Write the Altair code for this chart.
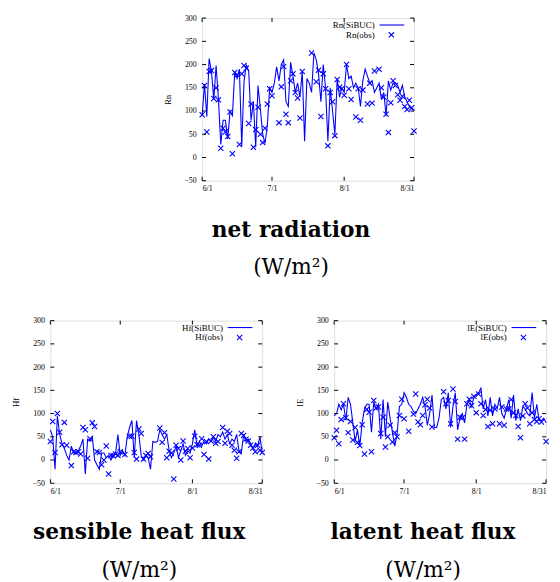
import altair as alt
import pandas as pd

# ---------------- data ----------------
days = list(range(92))
x_tick_days = [0, 30, 61, 91]
x_tick_labels = ["6/1", "7/1", "8/1", "8/31"]
y_ticks = [-50, 0, 50, 100, 150, 200, 250, 300]

rn_model = [90, 158, 88, 213, 185, 125, 198, 125, 28, 80, 80, 40, 100, 90, 185, 170,
            190, 25, 165, 200, 185, 80, 120, 22, 155, 105, 50, 30, 70, 150, 140, 160,
            195, 165, 200, 210, 120, 110, 205, 175, 140, 160, 130, 185, 35, 170, 160, 140,
            225, 210, 180, 120, 200, 150, 35, 150, 100, 50, 170, 130, 150, 140, 200, 170,
            175, 150, 160, 150, 110, 165, 190, 175, 160, 165, 140, 150, 160, 125, 140, 90,
            165, 145, 160, 160, 155, 140, 155, 130, 120, 110, 105, 100]
rn_obs_days = [0, 1, 2, 3, 4, 5, 6, 7, 8, 9, 10, 11, 12, 13, 14, 15, 16, 17, 18, 19, 20,
               21, 22, 23, 24, 25, 26, 27, 28, 29, 30, 33, 34, 35, 36, 37, 38, 39, 40, 41,
               42, 43, 47, 49, 50, 51, 52, 53, 54, 55, 56, 57, 58, 59, 60, 61, 62, 63, 64,
               66, 67, 68, 69, 71, 72, 73, 74, 76, 77, 78, 79, 80, 81, 82, 83, 84, 85, 86,
               87, 88, 89, 90, 91]
rn_obs_vals = [92, 155, 55, 185, 187, 127, 150, 124, 20, 63, 55, 45, 98, 8, 183, 178, 28,
               180, 198, 192, 73, 115, 22, 60, 108, 50, 32, 63, 115, 148, 133, 75, 152, 196,
               93, 75, 165, 180, 140, 128, 85, 185, 225, 163, 188, 88, 180, 148, 25, 140,
               120, 47, 168, 151, 148, 134, 200, 148, 125, 87, 148, 80, 145, 115, 160, 117,
               186, 190, 150, 130, 93, 54, 118, 165, 155, 135, 123, 132, 110, 103, 123, 107, 57]

hf_model = [65, 50, -20, 95, 55, 35, 25, 10, 0, 30, 15, 15, 20, 30, 45, -30, 45, 40, 50, 0,
            -10, -20, 15, 15, 5, 10, 0, 10, 15, 55, 10, 20, 10, 50, 70, 85, 5, 85, 55, 10,
            0, 10, 5, -20, 40, 38, 40, 65, 55, 45, 55, 20, 5, 15, 30, 5, 20, 35, 10, 20,
            15, 35, 65, 30, 40, 30, 40, 35, 45, 40, 50, 40, 55, 50, 60, 45, 55, 35, 45, 40,
            55, 20, 15, 55, 40, 45, 35, 25, 35, 30, 50, 15]
hf_obs_days = [0, 1, 2, 3, 4, 5, 6, 7, 9, 10, 11, 12, 13, 14, 15, 16, 17, 18, 19, 20, 21,
               22, 23, 24, 25, 26, 27, 28, 29, 30, 32, 34, 35, 36, 37, 38, 39, 40, 41, 42,
               43, 47, 48, 49, 50, 51, 52, 53, 54, 55, 56, 57, 58, 59, 60, 61, 62, 63, 64,
               65, 66, 67, 68, 69, 70, 71, 72, 74, 75, 76, 77, 78, 79, 80, 81, 82, 83, 84,
               85, 86, 87, 88, 89, 90, 91]
hf_obs_vals = [40, 83, 16, 100, 60, 33, 81, 32, -12, 18, 16, 18, 13, 70, 65, 4, 46, 80, 72,
               18, 16, -10, 0, 30, -30, 10, 9, 13, 10, 18, 12, 51, 51, 16, 2, 67, 57, 2, 10,
               14, 7, 69, 38, 59, 5, 19, 15, -41, 32, 25, 0, 41, 19, 25, 5, 26, 51, 33, 32,
               46, 12, 40, 2, 41, 50, 36, 40, 70, 36, 62, 57, 32, 21, 4, 18, 57, 53, 45, 41,
               32, 26, 18, 32, 21, 16]

le_model = [95, 100, 120, 108, 120, 85, 135, 120, 80, 40, 65, 30, 80, 110, 120, 120, 60,
            125, 110, 120, 45, 130, 50, 125, 90, 60, 30, 55, 115, 120, 145, 135, 120, 115,
            105, 100, 110, 120, 135, 115, 75, 100, 140, 70, 70, 90, 130, 135, 110, 145, 70,
            115, 145, 65, 90, 100, 80, 120, 130, 115, 135, 140, 145, 155, 110, 130, 95, 135,
            95, 120, 110, 135, 100, 90, 110, 130, 90, 140, 85, 110, 85, 115, 110, 100, 95,
            145, 90, 120, 85, 85, 90, 80]
le_obs_days = [0, 1, 2, 3, 4, 5, 6, 7, 8, 9, 10, 11, 12, 13, 14, 15, 16, 17, 18, 19, 20,
               21, 22, 23, 24, 25, 26, 27, 28, 29, 30, 32, 34, 35, 36, 37, 38, 39, 40, 41,
               42, 47, 48, 49, 50, 51, 52, 53, 54, 55, 56, 57, 58, 59, 60, 61, 62, 63, 64,
               65, 66, 67, 68, 69, 71, 72, 73, 74, 75, 76, 77, 78, 79, 80, 81, 82, 83, 84,
               85, 86, 87, 88, 89, 91]
le_obs_vals = [48, 64, 35, 87, 121, 91, 59, 83, 43, 70, 38, 31, 76, 13, 109, 103, 18, 128,
               112, 114, 57, 92, 28, 50, 75, 39, 59, 50, 96, 131, 89, 62, 99, 142, 82, 76,
               96, 119, 131, 112, 71, 147, 121, 128, 78, 153, 126, 45, 92, 91, 45, 121, 131,
               117, 137, 102, 142, 121, 96, 109, 72, 107, 78, 110, 78, 114, 75, 110, 110, 130,
               102, 96, 72, 48, 95, 121, 112, 78, 102, 87, 83, 89, 82, 40]

panels = [
    ("Rn", rn_model, rn_obs_days, rn_obs_vals, "net radiation"),
    ("Hf", hf_model, hf_obs_days, hf_obs_vals, "sensible heat flux"),
    ("lE", le_model, le_obs_days, le_obs_vals, "latent heat flux"),
]
unit_text = "(W/m\u00b2)"

# ---------------- style ----------------
W, H = 215, 165
BLUE = "#0000ff"
SERIF = "Liberation Serif"
TFONT = "DejaVu Serif"
XSHAPE = "M-1,-1L1,1M-1,1L1,-1"

label_expr = " : ".join(
    f"datum.value == {d} ? '{l}'" for d, l in zip(x_tick_days, x_tick_labels)
) + " : ''"


def panel(name, model, od, ov, title):
    dfm = pd.DataFrame({"day": days, "v": model})
    dfo = pd.DataFrame({"day": od, "v": ov})
    xs = alt.Scale(domain=[0, 91], nice=False, zero=False)
    ys = alt.Scale(domain=[-50, 300], nice=False, zero=False)
    xax = alt.Axis(values=x_tick_days, labelExpr=label_expr, ticks=False, domain=False,
                   grid=False, labelFont=SERIF, labelFontSize=8, labelPadding=4,
                   labelColor="black", title=None)
    yax = alt.Axis(values=y_ticks, ticks=False, domain=False, grid=False, labelFont=SERIF,
                   labelFontSize=8, labelPadding=6, labelColor="black", title=name,
                   titleFont=SERIF, titleFontSize=9, titleFontWeight="normal",
                   titleColor="black", titlePadding=12)
    X = alt.X("day:Q", scale=xs, axis=xax)
    Y = alt.Y("v:Q", scale=ys, axis=yax)

    line = alt.Chart(dfm).mark_line(color=BLUE, strokeWidth=1.1).encode(x=X, y=Y)
    pts = alt.Chart(dfo).mark_point(shape=XSHAPE, filled=False, color=BLUE, size=28,
                                    strokeWidth=1.1, opacity=1).encode(x=X, y=Y)

    ytk = pd.DataFrame({"day": [0] * len(y_ticks), "v": y_ticks})
    xtk = pd.DataFrame({"day": x_tick_days, "v": [0] * len(x_tick_days)})
    tl = alt.Chart(ytk).mark_rule(color="black", strokeWidth=1).encode(
        y=Y, x=alt.value(0), x2=alt.value(4))
    tr = alt.Chart(ytk).mark_rule(color="black", strokeWidth=1).encode(
        y=Y, x=alt.value(W - 4), x2=alt.value(W))
    tb = alt.Chart(xtk).mark_rule(color="black", strokeWidth=1).encode(
        x=X, y=alt.value(H - 4), y2=alt.value(H))
    tt = alt.Chart(xtk).mark_rule(color="black", strokeWidth=1).encode(
        x=X, y=alt.value(0), y2=alt.value(4))

    leg = pd.DataFrame({"a": [f"{name}(SiBUC)"], "b": [f"{name}(obs)"]})
    t1 = alt.Chart(leg).mark_text(align="right", baseline="middle", font=SERIF,
                                  fontSize=9, color="black").encode(
        x=alt.value(175), y=alt.value(7), text="a:N")
    t2 = alt.Chart(leg).mark_text(align="right", baseline="middle", font=SERIF,
                                  fontSize=9, color="black").encode(
        x=alt.value(175), y=alt.value(17), text="b:N")
    l1 = alt.Chart(leg).mark_rule(color=BLUE, strokeWidth=1.1).encode(
        x=alt.value(180), x2=alt.value(205), y=alt.value(7))
    p1 = alt.Chart(leg).mark_point(shape=XSHAPE, filled=False, color=BLUE, size=28,
                                   strokeWidth=1.1, opacity=1).encode(
        x=alt.value(192), y=alt.value(17))

    return alt.layer(line, pts, tl, tr, tb, tt, t1, t2, l1, p1).properties(
        width=W, height=H,
        title=alt.Title(title, subtitle=unit_text, orient="bottom", anchor="middle",
                        frame="bounds", font=TFONT, fontSize=22, fontWeight="bold",
                        color="black", subtitleFont=TFONT, subtitleFontSize=22,
                        subtitleFontWeight="normal", subtitleColor="black",
                        offset=28, subtitlePadding=16),
    )


top = panel(*panels[0])
left = panel(*panels[1])
right = panel(*panels[2])

spacer = alt.Chart(pd.DataFrame({"a": [0]})).mark_rule(opacity=0, strokeWidth=0).encode(
    x=alt.value(0), y=alt.value(0), y2=alt.value(1)
).properties(width=112, height=1, view=alt.ViewBackground(stroke="transparent"))

top_row = alt.hconcat(spacer, top, spacing=0)
bottom_row = alt.hconcat(left, right, spacing=26)

chart = alt.vconcat(top_row, bottom_row, spacing=37).properties(
    padding={"left": 2, "top": 1, "right": 0, "bottom": 0}
).configure_view(stroke="black", strokeWidth=1).configure(background="white")

chart.save("out.html", embed_options={"renderer": "svg", "actions": False})
